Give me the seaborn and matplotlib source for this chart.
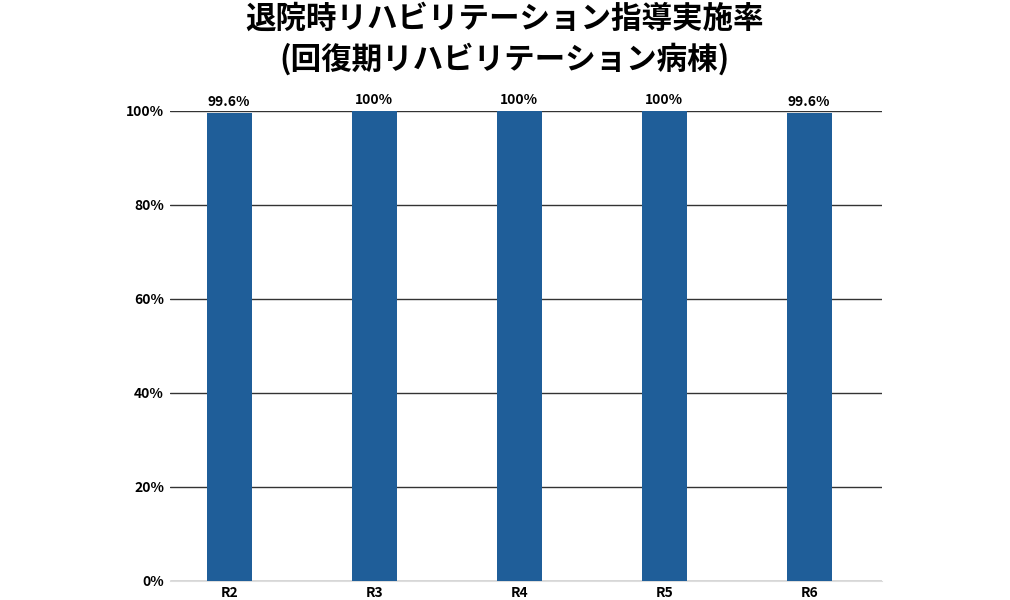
import pandas as pd
import matplotlib.pyplot as plt
import seaborn as sns

years = ['R2', 'R3', 'R4', 'R5', 'R6']
rates = [99.6, 100, 100, 100, 99.6]
labels = ['99.6%', '100%', '100%', '100%', '99.6%']
title = '退院時リハビリテーション指導実施率\n(回復期リハビリテーション病棟)'

sns.set_style('white')
plt.rcParams['font.family'] = ['Noto Sans CJK JP', 'DejaVu Sans']
plt.rcParams['text.color'] = 'black'
plt.rcParams['xtick.color'] = 'black'
plt.rcParams['ytick.color'] = 'black'

df = pd.DataFrame({'year': years, 'rate': rates})

fig = plt.figure(figsize=(10.1, 6), dpi=100)
ax = fig.add_axes([0.168, 0.032, 0.705, 0.783])
sns.barplot(data=df, x='year', y='rate', color='#1f5e99', saturation=1, width=0.31,
            edgecolor='none', linewidth=0, ax=ax, zorder=3)

ax.set_xlim(-0.41, 4.5)
ax.set_ylim(0, 100)
ax.set_yticks([0, 20, 40, 60, 80, 100])
ax.set_yticklabels([f'{v}%' for v in [0, 20, 40, 60, 80, 100]], fontsize=10, fontweight='bold')
for t in ax.get_xticklabels():
    t.set_fontsize(10)
    t.set_fontweight('bold')
ax.tick_params(axis='both', length=0, pad=4)
ax.grid(axis='y', color='#333333', linewidth=1, zorder=0)
ax.set_xlabel('')
ax.set_ylabel('')
for s in ['top', 'left', 'right']:
    ax.spines[s].set_visible(False)
ax.spines['bottom'].set_color('#dddddd')

for i, (v, lab) in enumerate(zip(rates, labels)):
    ax.text(i, v + 0.8, lab, ha='center', va='bottom', fontsize=10, fontweight='bold')

fig.text(0.5, 0.995, title, ha='center', va='top', fontsize=22, fontweight='bold', linespacing=1.3)

fig.savefig('out.png', dpi=100)
